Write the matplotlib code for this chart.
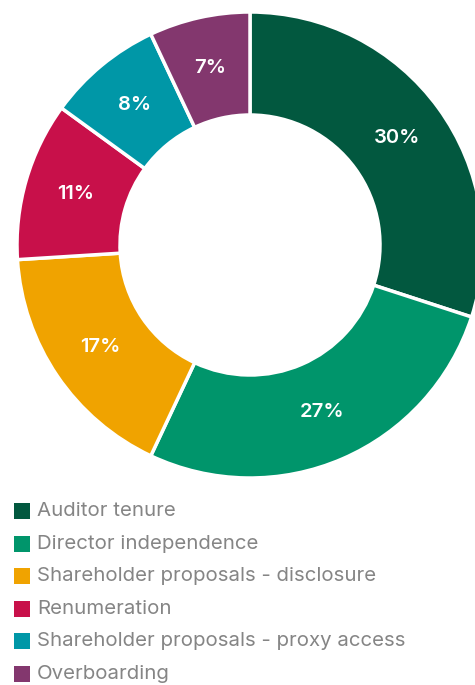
import matplotlib
matplotlib.use("Agg")
import matplotlib.pyplot as plt
from matplotlib.patches import Rectangle

categories = [
    "Auditor tenure",
    "Director independence",
    "Shareholder proposals - disclosure",
    "Renumeration",
    "Shareholder proposals - proxy access",
    "Overboarding",
]
shares = [30, 27, 17, 11, 8, 7]
colors = ["#02583F", "#00956B", "#F0A300", "#C8104A", "#0097A7", "#83376E"]

W, H = 475, 685
fig = plt.figure(figsize=(W / 100, H / 100), dpi=100)
ax = fig.add_axes([0, 0, 1, 1])

outer_r = 233
inner_r = 130
cx, cy = 250, H - 245

wedges, _, autotexts = ax.pie(
    shares,
    colors=colors,
    startangle=90,
    counterclock=False,
    center=(cx, cy),
    radius=outer_r,
    autopct=lambda p: f"{p:.0f}%",
    pctdistance=(outer_r + inner_r) / 2 / outer_r,
    wedgeprops=dict(width=outer_r - inner_r, edgecolor="white", linewidth=2.5),
    textprops=dict(color="white", fontsize=14.5, fontweight=600, fontstyle="normal",
                   family=["Inter", "DejaVu Sans"]),
)

ax.set_xlim(0, W)
ax.set_ylim(0, H)
ax.set_aspect("equal")
ax.axis("off")

# Legend: coloured squares with grey labels
top = H - 511
step = 32.6
for i, (name, col) in enumerate(zip(categories, colors)):
    y = top - i * step
    ax.add_patch(Rectangle((14, y - 8), 16, 16, facecolor=col, edgecolor="none"))
    ax.text(37, y, name, va="center", ha="left", fontsize=14.7,
            color="#858585", family=["Inter", "DejaVu Sans"])

fig.savefig("out.png", dpi=100)
